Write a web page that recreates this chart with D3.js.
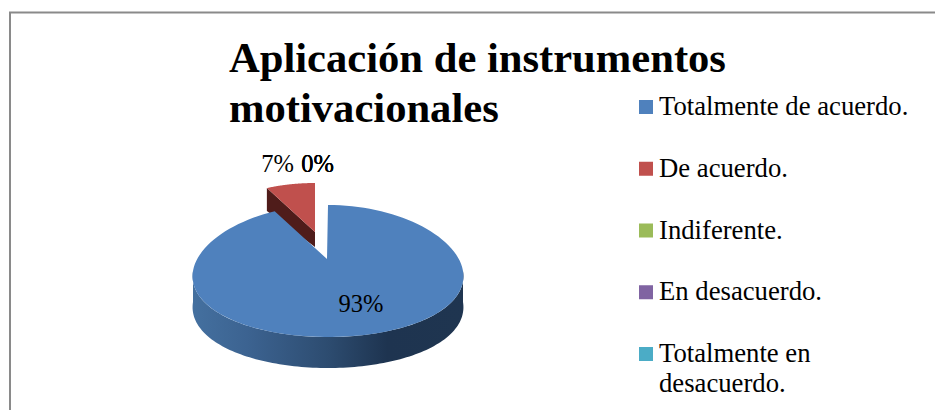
<!DOCTYPE html>
<html><head><meta charset="utf-8">
<script src="https://cdn.jsdelivr.net/npm/d3@7"></script>
<style>html,body{margin:0;padding:0;background:#fff}svg{display:block}text{font-family:"Liberation Serif",serif;fill:#000}</style>
</head><body><script>
const categories=["Totalmente de acuerdo.","De acuerdo.","Indiferente.","En desacuerdo.","Totalmente en desacuerdo."];
const values=[93,7,0,0,0];
const colors=["#4f81bd","#c0504d","#9bbb59","#8064a2","#4bacc6"];
const titleLines=["Aplicación de instrumentos","motivacionales"];
const legendLines=[["Totalmente de acuerdo."],["De acuerdo."],["Indiferente."],["En desacuerdo."],["Totalmente en","desacuerdo."]];
const legendY=d3.scalePoint().domain(categories).range([107,354]);

const W=935,H=410;
const svg=d3.select("body").append("svg").attr("width",W).attr("height",H);
const defs=svg.append("defs");
const g=defs.append("linearGradient").attr("id","side").attr("gradientUnits","userSpaceOnUse")
 .attr("x1",193).attr("x2",463).attr("y1",0).attr("y2",0);
[[0,"#44709f"],[0.2,"#3c6391"],[0.5,"#2d4c70"],[0.72,"#1e3450"],[1,"#1f3550"]].forEach(s=>g.append("stop").attr("offset",s[0]).attr("stop-color",s[1]));

// frame
svg.append("path").attr("d","M10,410V12.5H935").attr("fill","none").attr("stroke","#8a8a8a").attr("stroke-width",2);

// title
svg.append("g").selectAll("text").data(titleLines).join("text")
 .attr("x",229).attr("y",(d,i)=>72+i*50).attr("font-size",42.6).attr("font-weight","bold").text(d=>d);

// pie
const arcs=d3.pie().sort(null).startAngle(0).endAngle(2*Math.PI)(values);
const main=arcs[0], slice=arcs[1];
const proj=(a,c)=>[c.cx+c.rx*Math.sin(a)*(1-c.k*Math.cos(a)),c.cy-c.ry*Math.cos(a)];
const mainC={cx:328,cy:271,rx:135,ry:66,k:0.08,ax:327,ay:259,depth:31};
const sliceC={cx:315,cy:236,rx:113,ry:53,k:0,ax:315,ay:232,depth:15};
const line=d3.line();
const sample=(a0,a1,c)=>d3.range(0,121).map(i=>proj(a0+(a1-a0)*i/120,c));

// blue outer wall (front half of ellipse)
const front=sample(Math.PI/2,3*Math.PI/2,mainC);
svg.append("path").attr("fill","url(#side)")
 .attr("d",line([...front,...front.slice().reverse().map(p=>[p[0],p[1]+mainC.depth])])+"Z");

// exploded slice
const sTop=sample(slice.startAngle,slice.endAngle,sliceC);
const sLeft=sTop[0];
svg.append("path").attr("fill","#4f1c1a")
 .attr("d",line([sLeft,[sliceC.ax,sliceC.ay],[sliceC.ax,sliceC.ay+sliceC.depth],[sLeft[0],sLeft[1]+sliceC.depth+8]])+"Z");
svg.append("path").attr("fill",colors[1])
 .attr("d",line([[sliceC.ax,sliceC.ay],...sTop])+"Z");

// blue top
svg.append("path").attr("fill",colors[0])
 .attr("d",line([[mainC.ax,mainC.ay],...sample(main.startAngle,main.endAngle,mainC)])+"Z");

// data labels
const labelPos=[[361,312],[277.5,172],[317.5,172],[317.5,172],[317.5,172]];
svg.append("g").selectAll("text").data(arcs).join("text")
 .attr("x",(d,i)=>labelPos[i][0]).attr("y",(d,i)=>labelPos[i][1])
 .attr("text-anchor","middle").attr("font-size",24.5)
 .text(d=>d3.format(".0f")(d.value)+"%");

// legend
const leg=svg.append("g").selectAll("g").data(categories).join("g")
 .attr("transform",d=>`translate(639,${legendY(d)})`);
leg.append("rect").attr("y",-7).attr("width",14).attr("height",14).attr("fill",(d,i)=>colors[i]);
leg.append("text").attr("x",20).attr("font-size",26.7).selectAll("tspan").data((d,i)=>legendLines[i]).join("tspan")
 .attr("x",20).attr("y",(d,i)=>8+i*30).text(d=>d);
</script></body></html>
